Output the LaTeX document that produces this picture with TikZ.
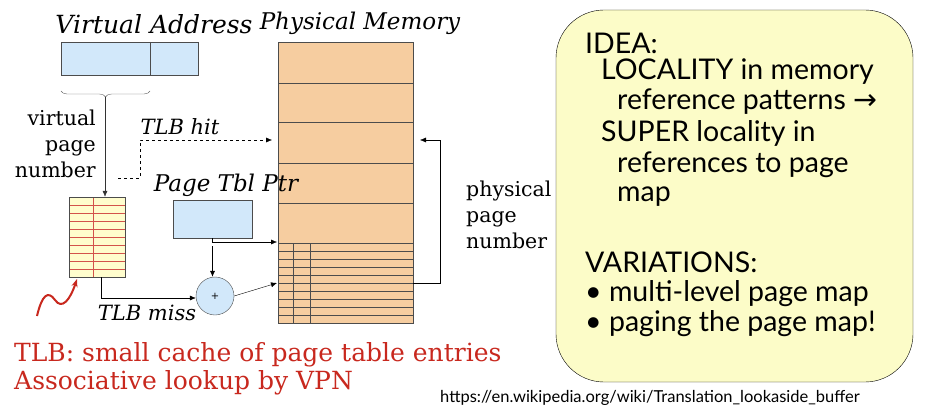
\documentclass[tikz,border=0pt]{standalone}
\usepackage{fontspec}
\setmainfont{DejaVu Serif}
\newfontfamily\idea{Lato}
\newfontfamily\djsym{DejaVu Sans}
\usetikzlibrary{arrows.meta,decorations.pathreplacing}
\definecolor{vblue}{RGB}{210,232,250}
\definecolor{mem}{RGB}{246,205,160}
\definecolor{tlb}{RGB}{255,253,205}
\definecolor{idy}{RGB}{252,252,200}
\definecolor{redt}{RGB}{200,40,30}
\tikzset{lbl/.style={font=\fontsize{24}{26}\selectfont\itshape,inner sep=0},
 txt/.style={font=\fontsize{20.5}{26}\selectfont,inner sep=0},
 arr/.style={-{Latex[length=6pt,width=5pt]},thin},
 itx/.style={font=\idea\fontsize{28.5}{30}\selectfont,anchor=west,inner sep=0}}
\begin{document}
\begin{tikzpicture}[x=1pt,y=-1pt]
\useasboundingbox (0,0) rectangle (928,414);
% virtual address
\node[lbl,font=\fontsize{25}{26}\selectfont\itshape] (vat) at (154,24) {Virtual Address};
\draw[fill=vblue,draw=black!70] (61,42) rectangle (198,75);
\draw[black!70] (150,42) -- (150,75);
\coordinate (va) at (105,75);
\draw[decorate,decoration={brace,mirror,amplitude=6pt},black!60] (61,91) -- (150,91);
\node[txt,align=right,anchor=east,font=\fontsize{20.5}{26}\selectfont] (vpn) at (96,144) {virtual\\page\\number};
% TLB
\node[draw=black!70,fill=tlb,minimum width=56,minimum height=80,inner sep=0] (tlb) at (97,237) {};
\foreach \i in {1,...,9} \draw[redt!80] (69,197+8*\i) -- (125,197+8*\i);
\draw[redt!80] (93,197) -- (93,277);
\draw[black!70] (tlb.north west) rectangle (tlb.south east);
\draw[arr,black!80] (105,97) -- (tlb.north -| 105,0);
% memory
\node[lbl,font=\fontsize{23}{26}\selectfont\itshape] (pm) at (360,23) {Physical Memory};
\node[draw=black!70,fill=mem,minimum width=135,minimum height=281,inner sep=0] (mem) at (345.5,182.5) {};
\foreach \y in {83,122,163,203,243} \draw[black!70] (278,\y) -- (413,\y);
\foreach \i in {1,...,9} \draw[black!70] (278,243+8*\i) -- (413,243+8*\i);
\draw[black!70] (293,243) -- (293,323) (310,243) -- (310,323);
% TLB hit
\node[lbl,font=\fontsize{21}{24}\selectfont\itshape] (hit) at (180,127) {TLB hit};
\coordinate (h0) at (118,178);
\coordinate (h1) at (272,140);
\draw[dashed,arr] (h0) -- (140,178) -- (140,140) -- (h1);
% page tbl ptr
\node[lbl,font=\fontsize{23}{24}\selectfont\itshape] (ptp) at (226,185) {Page Tbl Ptr};
\node[draw=black!70,fill=vblue,minimum width=79,minimum height=38,inner sep=0] (ptr) at (212.5,219) {};
\node[draw=black!70,fill=vblue,circle,minimum size=38,inner sep=0,font=\normalsize] (plus) at (215,296) {+};
\draw[arr] (ptr.south) -- (212.5,242) -- (277,242);
\draw[arr] (212.5,246) -- (plus.north -| 212.5,0);
\draw[arr] (101,277) -- (101,298) -- (plus.west |- 0,298);
\draw[arr] (plus.east) -- (277,283);
\node[lbl,font=\fontsize{21}{24}\selectfont\itshape] (miss) at (147,313) {TLB miss};
% physical page number
\draw[arr] (413,283) -- (440,283) -- (440,140) -- (420,140);
\node[txt,align=left,anchor=west] (ppn) at (466,215) {physical\\page\\number};
% squiggle
\draw[redt,line width=2pt,-{Stealth[length=8pt]}] (37,316) .. controls (42,295) and (48,290) .. (55,300) .. controls (62,310) and (70,300) .. (77,279);
% red text
\node[anchor=west,text=redt,font=\fontsize{25}{26}\selectfont,inner sep=0] (r1) at (14,355) {TLB: small cache of page table entries};
\node[anchor=west,text=redt,font=\fontsize{25}{26}\selectfont,inner sep=0] (r2) at (14,383) {Associative lookup by VPN};
\node[anchor=west,font=\idea\fontsize{16.5}{18}\selectfont,inner sep=0] (url) at (440,398) {https://en.wikipedia.org/wiki/Translation\_lookaside\_buffer};
% idea
\draw[rounded corners=48,fill=idy,draw=black] (556,10) rectangle (913,382);
\node[itx] at (585,43) {IDEA:};
\node[itx] at (601,72) {LOCALITY in memory};
\node[itx] at (617,102) {reference patterns {\djsym→}};
\node[itx] at (601,133) {SUPER locality in};
\node[itx] at (617,165) {references to page};
\node[itx] at (617,197) {map};
\node[itx] at (585,262) {VARIATIONS:};
\node[itx] at (585,294) {\textbullet\ multi-level page map};
\node[itx] at (585,324) {\textbullet\ paging the page map!};
\end{tikzpicture}
\end{document}
